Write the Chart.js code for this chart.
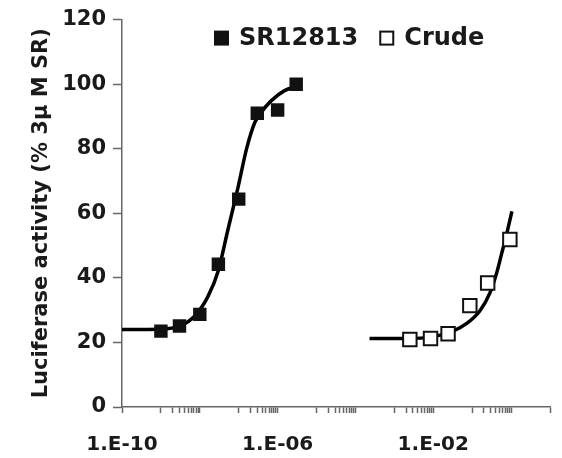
<!DOCTYPE html>
<html>
<head>
<meta charset="utf-8">
<script src="https://cdn.jsdelivr.net/npm/chart.js@4.4.1/dist/chart.umd.min.js"></script>
<style>
  html, body { margin: 0; padding: 0; background: #fff; }
  #wrap { width: 562px; height: 458px; }
</style>
</head>
<body>
<div id="wrap"><canvas id="chart"></canvas></div>
<script>
// measured points
const seriesNames = ['SR12813', 'Crude'];
const srDose = [1e-9, 3e-9, 1e-8, 3e-8, 1e-7, 3e-7, 1e-6, 3e-6];
const srActivity = [23.5, 25.1, 28.7, 44.2, 64.4, 91.0, 92.0, 100];
const crudeDose = [2.5e-3, 8.5e-3, 2.4e-2, 8.7e-2, 0.25, 0.93];
const crudeActivity = [20.9, 21.2, 22.7, 31.4, 38.4, 51.9];

// fitted curves
const srFitDose = [1e-10, 1e-9, 3.2e-9, 7.4e-9, 1.6e-8, 3e-8, 5.2e-8, 9.5e-8, 1.6e-7, 2.6e-7, 3.8e-7, 6.9e-7, 1.5e-6, 3.3e-6];
const srFitActivity = [24.0, 24.1, 25.2, 28.2, 34.1, 42.3, 54.6, 67.8, 80.1, 88.2, 91.3, 94.9, 98.0, 99.5];
const crudeFitDose = [2.3e-4, 2e-3, 1e-2, 3.2e-2, 7.1e-2, 0.16, 0.29, 0.43, 0.58, 0.78, 1.05];
const crudeFitActivity = [21.2, 21.2, 21.8, 23.5, 25.8, 29.9, 35.5, 41.7, 47.8, 53.9, 60.6];

// axes
const xTickValues = [1e-10, 1e-6, 1e-2];
const xTickLabels = ['1.E-10', '1.E-06', '1.E-02'];
const yTicks = [0, 20, 40, 60, 80, 100, 120];
const yTitle = 'Luciferase activity (% 3\u03bc M SR)';

const AXIS_COLOR = '#666';
const TEXT_COLOR = '#1a1a1a';
const FONT = '"DejaVu Sans", sans-serif';

const toPoints = (xs, ys) => xs.map((x, i) => ({ x: x, y: ys[i] }));

// Excel-like log axis: majors every 2 decades, minors in the upper decade
const buildXTicks = () => {
    const ticks = [];
    for (let e = -10; e <= 0; e += 2) {
        ticks.push(Math.pow(10, e));
        if (e < 0) {
            for (let k = 1; k <= 9; k++) ticks.push(k * Math.pow(10, e + 1));
        }
    }
    ticks.push(10);
    return ticks.map(v => ({ value: v }));
};

const labelFor = (v) => {
    const i = xTickValues.findIndex(t => Math.abs(Math.log10(t) - Math.log10(v)) < 1e-6);
    return i >= 0 ? xTickLabels[i] : '';
};

// legend drawn inside the plot area, as in the original
const insideLegend = {
    id: 'insideLegend',
    afterDraw(chart) {
        const ctx = chart.ctx;
        const area = chart.chartArea;
        const y = area.top + 19;
        let x = area.left + 93;
        ctx.save();
        ctx.font = 'bold 24px ' + FONT;
        ctx.textBaseline = 'middle';
        seriesNames.forEach((name, i) => {
            const ds = chart.data.datasets[i];
            ctx.fillStyle = ds.pointBackgroundColor;
            ctx.strokeStyle = '#111';
            ctx.lineWidth = 2;
            ctx.fillRect(x, y - 7, 13, 13);
            ctx.strokeRect(x, y - 7, 13, 13);
            ctx.fillStyle = TEXT_COLOR;
            ctx.fillText(name, x + 24, y);
            x += 24 + ctx.measureText(name).width + 22;
        });
        ctx.restore();
    }
};

const ctx = document.getElementById('chart').getContext('2d');
new Chart(ctx, {
    type: 'scatter',
    data: {
        datasets: [
            {
                label: seriesNames[0],
                data: toPoints(srDose, srActivity),
                pointStyle: 'rect',
                pointRadius: 9.5,
                pointBackgroundColor: '#111',
                pointBorderColor: '#111',
                pointBorderWidth: 0,
                showLine: false
            },
            {
                label: seriesNames[1],
                data: toPoints(crudeDose, crudeActivity),
                pointStyle: 'rect',
                pointRadius: 9.5,
                pointBackgroundColor: '#fff',
                pointBorderColor: '#111',
                pointBorderWidth: 2,
                showLine: false
            },
            {
                label: 'SR12813 fit',
                data: toPoints(srFitDose, srFitActivity),
                showLine: true,
                pointRadius: 0,
                borderColor: '#000',
                borderWidth: 3.5,
                cubicInterpolationMode: 'monotone'
            },
            {
                label: 'Crude fit',
                data: toPoints(crudeFitDose, crudeFitActivity),
                showLine: true,
                pointRadius: 0,
                borderColor: '#000',
                borderWidth: 3.5,
                cubicInterpolationMode: 'monotone'
            }
        ]
    },
    options: {
        responsive: true,
        maintainAspectRatio: false,
        animation: false,
        layout: { padding: { top: 17, right: 12, left: 0, bottom: 0 } },
        plugins: {
            legend: { display: false },
            tooltip: { enabled: false }
        },
        scales: {
            x: {
                type: 'logarithmic',
                min: 1e-10,
                max: 10,
                afterBuildTicks: (scale) => { scale.ticks = buildXTicks(); },
                afterFit: (scale) => {
                    scale.height = 51;
                    scale.paddingRight = 0;
                },
                border: { display: true, color: AXIS_COLOR, width: 1.5 },
                grid: {
                    drawOnChartArea: false,
                    drawTicks: true,
                    tickLength: 6,
                    tickColor: AXIS_COLOR,
                    tickWidth: 1.5
                },
                ticks: {
                    autoSkip: false,
                    maxRotation: 0,
                    padding: 20,
                    color: TEXT_COLOR,
                    font: { family: FONT, size: 20, weight: 'bold' },
                    callback: (v) => labelFor(v)
                }
            },
            y: {
                min: 0,
                max: 120,
                afterBuildTicks: (scale) => { scale.ticks = yTicks.map(v => ({ value: v })); },
                afterFit: (scale) => { scale.width = 122; },
                border: { display: true, color: AXIS_COLOR, width: 1.5 },
                grid: {
                    drawOnChartArea: false,
                    drawTicks: true,
                    tickLength: 9,
                    tickColor: AXIS_COLOR,
                    tickWidth: 1.5
                },
                ticks: {
                    padding: 7,
                    color: TEXT_COLOR,
                    font: { family: FONT, size: 21, weight: 'bold' }
                },
                title: {
                    display: true,
                    text: yTitle,
                    color: TEXT_COLOR,
                    padding: { top: 29, bottom: 0 },
                    font: { family: FONT, size: 21, weight: 'bold' }
                }
            }
        }
    },
    plugins: [insideLegend]
});
</script>
</body>
</html>
